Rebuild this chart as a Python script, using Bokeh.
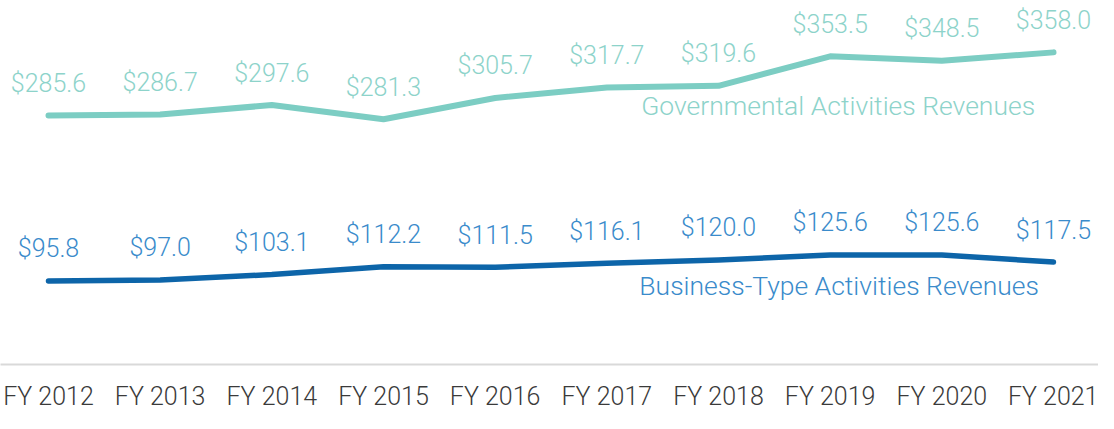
from bokeh.plotting import figure
from bokeh.models import Range1d, FixedTicker, ColumnDataSource, Label
from bokeh.core.properties import value
from bokeh.embed import file_html
from bokeh.resources import INLINE

years = ["FY 2012", "FY 2013", "FY 2014", "FY 2015", "FY 2016",
         "FY 2017", "FY 2018", "FY 2019", "FY 2020", "FY 2021"]
gov_values = [285.6, 286.7, 297.6, 281.3, 305.7, 317.7, 319.6, 353.5, 348.5, 358.0]
bus_values = [95.8, 97.0, 103.1, 112.2, 111.5, 116.1, 120.0, 125.6, 125.6, 117.5]
gov_name = "Governmental Activities Revenues"
bus_name = "Business-Type Activities Revenues"

FONT = "Roboto Light"
AXFONT = "Roboto Light"
GOV_LINE = "#7ccdc3"
GOV_TEXT = "#8dd3ca"
BUS_LINE = "#0d65a9"
BUS_TEXT = "#3a8bcb"

xs = list(range(len(years)))
W, H = 1098, 413
x_first, x_last = 48.0, 1053.0
spacing = (x_last - x_first) / (len(years) - 1)

p = figure(width=W, height=H, output_backend="svg", toolbar_location=None,
           x_range=Range1d(-x_first / spacing, (W - x_first) / spacing),
           y_range=Range1d(0, 417.5),
           min_border_left=0, min_border_right=0, min_border_top=0, min_border_bottom=0)
p.outline_line_color = None
p.grid.visible = False
p.yaxis.visible = False
p.background_fill_color = "white"
p.border_fill_color = "white"

xa = p.xaxis[0]
xa.ticker = FixedTicker(ticks=xs)
xa.major_label_overrides = {i: y for i, y in enumerate(years)}
xa.axis_line_color = "#d9d9d9"
xa.axis_line_width = 2
xa.major_tick_line_color = None
xa.minor_tick_line_color = None
xa.major_label_text_font = AXFONT
xa.major_label_text_font_size = "25px"
xa.major_label_text_color = "#3a3a3a"
xa.major_label_standoff = 11

gov_src = ColumnDataSource(dict(x=xs, y=gov_values,
                                lbl=["${:.1f}".format(v) for v in gov_values]))
bus_src = ColumnDataSource(dict(x=xs, y=bus_values,
                                lbl=["${:.1f}".format(v) for v in bus_values]))

p.line("x", "y", source=gov_src, line_color=GOV_LINE, line_width=6, line_cap="round", line_join="round")
p.line("x", "y", source=bus_src, line_color=BUS_LINE, line_width=5.5, line_cap="round", line_join="round")

for src, col in ((gov_src, GOV_TEXT), (bus_src, BUS_TEXT)):
    p.text("x", "y", text="lbl", source=src, text_color=col, text_font=value(FONT),
           text_font_size="25px", text_align="center", text_baseline="middle",
           y_offset=-32)

p.add_layout(Label(x=7, y=296.7, text=gov_name, text_color=GOV_TEXT,
                   text_font=FONT, text_font_size="26.5px", text_align="center",
                   text_baseline="middle", x_offset=8))
p.add_layout(Label(x=7, y=90.1, text=bus_name, text_color=BUS_TEXT,
                   text_font=FONT, text_font_size="26.5px", text_align="center",
                   text_baseline="middle", x_offset=9))

open("out.html", "w").write(file_html(p, INLINE))
